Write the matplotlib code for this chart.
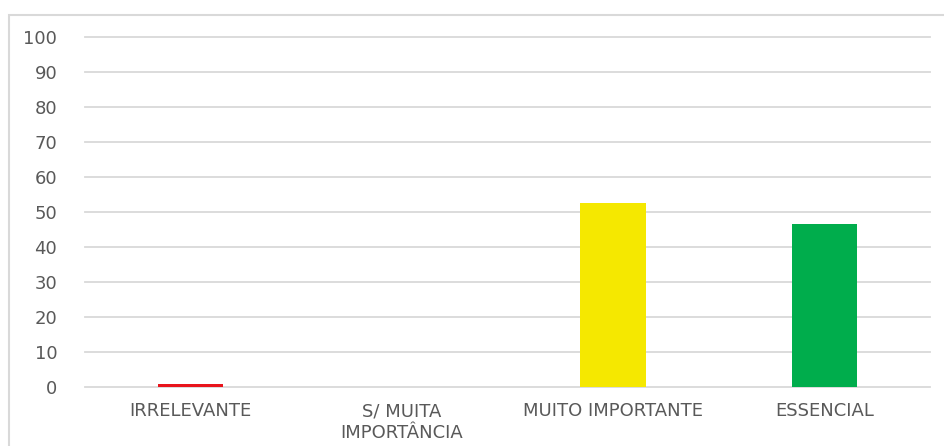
import matplotlib.pyplot as plt
from matplotlib.patches import Rectangle

categorias = ["IRRELEVANTE", "S/ MUITA\nIMPORTÂNCIA", "MUITO IMPORTANTE", "ESSENCIAL"]
valores = [1.0, 0.0, 52.6, 46.5]
cores = ["#e8141c", "#ff9900", "#f5e800", "#00ad4c"]
yticks = [0, 10, 20, 30, 40, 50, 60, 70, 80, 90, 100]

plt.rcParams['font.family'] = ['DejaVu Sans']

fig = plt.figure(figsize=(9.44, 4.46), dpi=100)
# outer chart border (Excel style), right and bottom edges fall outside the image
fig.patches.append(Rectangle((9 / 944, -0.1), 1.1, 1 - 15 / 446 + 0.1,
                             transform=fig.transFigure, fill=False,
                             edgecolor="#d9d9d9", linewidth=1.5))

ax = fig.add_axes([85 / 944, 1 - 387 / 446, 845 / 944, 350 / 446])
x = range(len(categorias))
ax.bar(x, valores, width=0.31, color=cores, zorder=3)

ax.set_xlim(-0.5, len(categorias) - 0.5)
ax.set_ylim(0, 100)
ax.set_yticks(yticks)
ax.set_xticks(list(x))
ax.set_xticklabels(categorias, fontsize=13, color="#595959", linespacing=1.3)
ax.tick_params(axis='y', labelsize=13, labelcolor="#595959", length=0, pad=20)
ax.tick_params(axis='x', length=0, pad=11)
ax.grid(axis='y', color="#d9d9d9", linewidth=1.3, zorder=0)
for gl in ax.get_ygridlines():
    gl.set_clip_on(False)
for s in ax.spines.values():
    s.set_visible(False)

fig.savefig("out.png", dpi=100)
